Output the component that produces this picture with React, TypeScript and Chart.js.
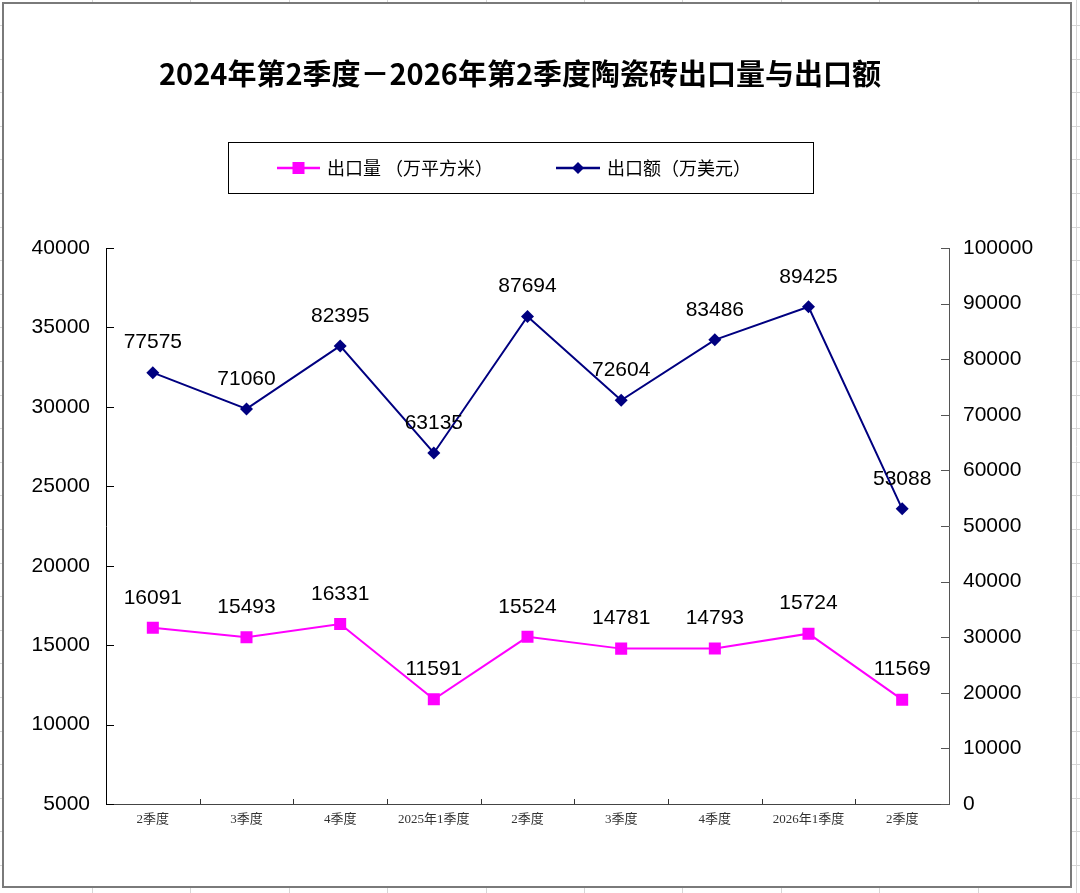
import React, { useEffect, useRef } from "react";
import { Chart, registerables } from "chart.js";

Chart.register(...registerables);

const categories = ["2季度", "3季度", "4季度", "2025年1季度", "2季度", "3季度", "4季度", "2026年1季度", "2季度"];
const volumeValues = [16091, 15493, 16331, 11591, 15524, 14781, 14793, 15724, 11569];
const amountValues = [77575, 71060, 82395, 63135, 87694, 72604, 83486, 89425, 53088];
const leftTicks = [5000, 10000, 15000, 20000, 25000, 30000, 35000, 40000];
const rightTicks = [0, 10000, 20000, 30000, 40000, 50000, 60000, 70000, 80000, 90000, 100000];
const titleText = "2024年第2季度－2026年第2季度陶瓷砖出口量与出口额";
const volumeLabel = "出口量 （万平方米）";
const amountLabel = "出口额（万美元）";

const PINK = "#FF00FF";
const NAVY = "#000080";
const SANS = "'Liberation Sans', Arial, sans-serif";
const CJK = "'Noto Sans CJK SC', 'Liberation Sans', sans-serif";

const decorPlugin = {
  id: "decor",
  beforeDraw(chart: any) {
    const { ctx, width, height } = chart;
    ctx.save();
    ctx.fillStyle = "#ffffff";
    ctx.fillRect(0, 0, width, height);
    // spreadsheet grid behind the chart object
    ctx.strokeStyle = "#d6d6d6";
    ctx.lineWidth = 1;
    for (let x = 92; x < width; x += 98.4) {
      ctx.beginPath();
      ctx.moveTo(Math.round(x) + 0.5, 0);
      ctx.lineTo(Math.round(x) + 0.5, height);
      ctx.stroke();
    }
    for (let y = 25; y < height; y += 33.6) {
      ctx.beginPath();
      ctx.moveTo(0, Math.round(y) + 0.5);
      ctx.lineTo(width, Math.round(y) + 0.5);
      ctx.stroke();
    }
    // chart object frame
    ctx.fillStyle = "#ffffff";
    ctx.fillRect(3, 3, 1068, 884);
    ctx.strokeStyle = "#7a7a7a";
    ctx.lineWidth = 2;
    ctx.strokeRect(3, 3, 1068, 884);
    ctx.restore();
  },
  afterDatasetsDraw(chart: any) {
    const { ctx } = chart;
    ctx.save();
    ctx.font = `21px ${SANS}`;
    ctx.fillStyle = "#000";
    ctx.textAlign = "center";
    ctx.textBaseline = "middle";
    chart.data.datasets.forEach((ds: any, i: number) => {
      const meta = chart.getDatasetMeta(i);
      meta.data.forEach((pt: any, j: number) => {
        ctx.fillText(String(ds.data[j]), pt.x, pt.y - 30);
      });
    });
    ctx.restore();
  },
  afterDraw(chart: any) {
    const { ctx, chartArea } = chart;
    const xs = chart.scales.x;
    const yl = chart.scales.yLeft;
    const yr = chart.scales.yRight;
    ctx.save();
    // inward tick marks
    ctx.lineWidth = 1;
    ctx.strokeStyle = "#000";
    yl.ticks.forEach((t: any) => {
      const y = Math.round(yl.getPixelForValue(t.value)) + 0.5;
      ctx.beginPath();
      ctx.moveTo(chartArea.left, y);
      ctx.lineTo(chartArea.left + 8, y);
      ctx.stroke();
    });
    ctx.strokeStyle = "#555";
    yr.ticks.forEach((t: any) => {
      const y = Math.round(yr.getPixelForValue(t.value)) + 0.5;
      ctx.beginPath();
      ctx.moveTo(chartArea.right - 8, y);
      ctx.lineTo(chartArea.right, y);
      ctx.stroke();
    });
    ctx.strokeStyle = "#333";
    for (let i = 1; i < categories.length; i++) {
      const x = Math.round((xs.getPixelForValue(i - 1) + xs.getPixelForValue(i)) / 2) + 0.5;
      ctx.beginPath();
      ctx.moveTo(x, chartArea.bottom);
      ctx.lineTo(x, chartArea.bottom - 5);
      ctx.stroke();
    }

    // title
    ctx.fillStyle = "#000";
    ctx.font = `bold 29px ${CJK}`;
    ctx.textAlign = "center";
    ctx.textBaseline = "middle";
    ctx.fillText(titleText, 520, 74);

    // legend box
    ctx.lineWidth = 1;
    ctx.strokeStyle = "#000";
    ctx.strokeRect(228.5, 142.5, 585, 51);
    const ly = 168;
    const items = [
      { label: chart.data.datasets[0].label, color: PINK, x0: 277, x1: 320, style: "rect" },
      { label: chart.data.datasets[1].label, color: NAVY, x0: 556, x1: 600, style: "rectRot" },
    ];
    items.forEach((it) => {
      ctx.strokeStyle = it.color;
      ctx.fillStyle = it.color;
      ctx.lineWidth = 2.5;
      ctx.beginPath();
      ctx.moveTo(it.x0, ly);
      ctx.lineTo(it.x1, ly);
      ctx.stroke();
      const cx = (it.x0 + it.x1) / 2;
      ctx.beginPath();
      if (it.style === "rect") {
        ctx.rect(cx - 6, ly - 6, 12, 12);
      } else {
        ctx.moveTo(cx - 6, ly);
        ctx.lineTo(cx, ly - 6);
        ctx.lineTo(cx + 6, ly);
        ctx.lineTo(cx, ly + 6);
        ctx.closePath();
      }
      ctx.fill();
      ctx.fillStyle = "#000";
      ctx.font = `18px ${CJK}`;
      ctx.textAlign = "left";
      ctx.textBaseline = "middle";
      ctx.fillText(it.label, it.x1 + 7, ly);
    });
    ctx.restore();
  },
};

export default function App() {
  const canvasRef = useRef<HTMLCanvasElement | null>(null);

  useEffect(() => {
    const canvas = canvasRef.current;
    if (!canvas) return;
    const chart = new Chart(canvas, {
      type: "line",
      data: {
        labels: categories,
        datasets: [
          {
            label: volumeLabel,
            data: volumeValues,
            yAxisID: "yLeft",
            borderColor: PINK,
            backgroundColor: PINK,
            borderWidth: 2,
            pointStyle: "rect",
            pointRadius: 8.5,
            pointHoverRadius: 8.5,
            pointBorderWidth: 0,
            tension: 0,
          },
          {
            label: amountLabel,
            data: amountValues,
            yAxisID: "yRight",
            borderColor: NAVY,
            backgroundColor: NAVY,
            borderWidth: 2,
            pointStyle: "rectRot",
            pointRadius: 6.5,
            pointHoverRadius: 6.5,
            pointBorderWidth: 0,
            tension: 0,
          },
        ],
      },
      options: {
        responsive: false,
        animation: false,
        devicePixelRatio: 1,
        layout: { padding: { top: 248, left: 0, right: 0, bottom: 0 } },
        plugins: {
          legend: { display: false },
          title: { display: false },
          tooltip: { enabled: false },
        },
        scales: {
          x: {
            type: "category",
            offset: true,
            grid: { display: false, drawTicks: false },
            border: { display: true, color: "#444", width: 1 },
            ticks: {
              font: { size: 13, family: "'Liberation Serif', 'Noto Sans CJK SC', serif" },
              color: "#333",
              padding: 8,
              maxRotation: 0,
              autoSkip: false,
            },
            afterFit: (s: any) => {
              s.height = 89;
            },
          },
          yLeft: {
            type: "linear",
            position: "left",
            min: 5000,
            max: 40000,
            grid: { display: false, drawTicks: false },
            border: { display: true, color: "#000", width: 1 },
            ticks: {
              font: { size: 21, family: SANS },
              color: "#000",
              padding: 16,
              callback: (v: any) => String(v),
            },
            afterBuildTicks: (s: any) => {
              s.ticks = leftTicks.map((v) => ({ value: v }));
            },
            afterFit: (s: any) => {
              s.width = 106;
            },
          },
          yRight: {
            type: "linear",
            position: "right",
            min: 0,
            max: 100000,
            grid: { display: false, drawTicks: false },
            border: { display: true, color: "#555", width: 1 },
            ticks: {
              font: { size: 21, family: SANS },
              color: "#000",
              padding: 14,
              callback: (v: any) => String(v),
            },
            afterBuildTicks: (s: any) => {
              s.ticks = rightTicks.map((v) => ({ value: v }));
            },
            afterFit: (s: any) => {
              s.width = 131;
            },
          },
        },
      },
      plugins: [decorPlugin],
    } as any);
    return () => chart.destroy();
  }, []);

  return (
    <div style={{ position: "absolute", left: 0, top: 0, width: 1080, height: 893 }}>
      <canvas ref={canvasRef} width={1080} height={893} style={{ display: "block" }} />
    </div>
  );
}
